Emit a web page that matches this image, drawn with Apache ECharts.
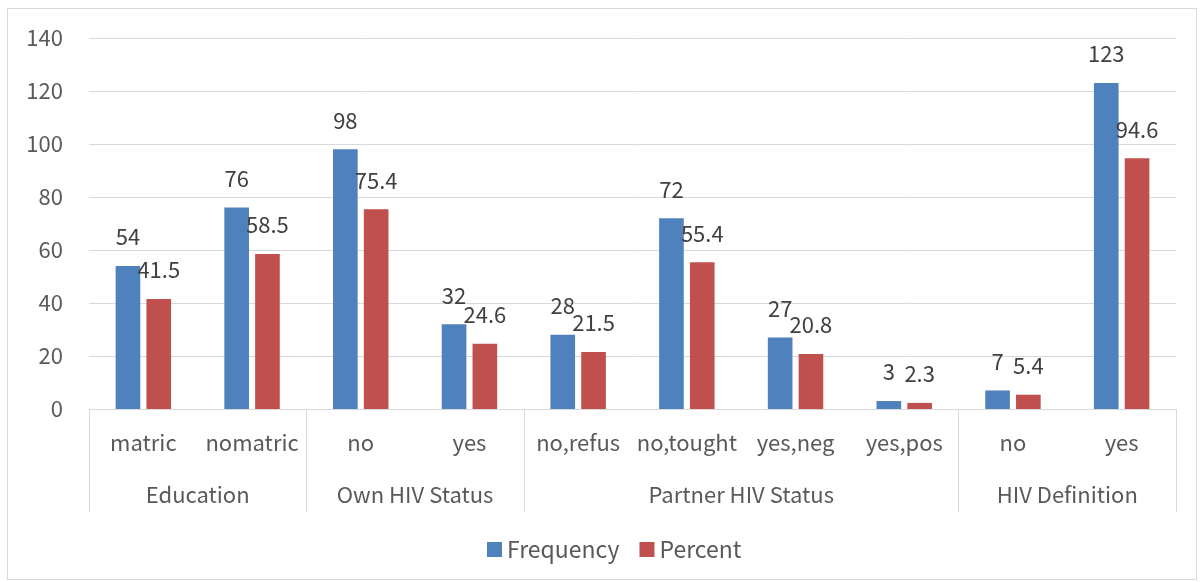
<!DOCTYPE html>
<html>
<head>
<meta charset="utf-8">
<script src="https://cdn.jsdelivr.net/npm/echarts@6/dist/echarts.min.js"></script>
<style>
  html, body { margin: 0; padding: 0; background: #ffffff; }
  #chart { width: 1200px; height: 582px; position: absolute; left: 0; top: 0; }
  #frame { position: absolute; left: 7px; top: 8px; width: 1188px; height: 570px; border: 1px solid #d9d9d9; pointer-events: none; }
</style>
</head>
<body>
<div id="chart"></div>
<div id="frame"></div>
<script>
const categories = ['matric', 'nomatric', 'no', 'yes', 'no,refus', 'no,tought', 'yes,neg', 'yes,pos', 'no', 'yes'];
const groupNames = ['Education', 'Own HIV Status', 'Partner HIV Status', 'HIV Definition'];
const groupBoundaries = [0, 2, 4, 8, 10];
const groupCenters = [1, 3, 6, 9];
const frequency = [54, 76, 98, 32, 28, 72, 27, 3, 7, 123];
const percent = [41.5, 58.5, 75.4, 24.6, 21.5, 55.4, 20.8, 2.3, 5.4, 94.6];
const yTicks = [0, 20, 40, 60, 80, 100, 120, 140];

const FONT = '"Noto Sans CJK KR", "Noto Sans", sans-serif';
const TXT = '#595959';
const LINE = '#d9d9d9';

const chart = echarts.init(document.getElementById('chart'), null, { renderer: 'canvas' });
const labelStyle = {
  show: true, position: 'top', distance: 18,
  fontFamily: FONT, fontSize: 22, color: '#404040'
};
chart.setOption({
  animation: false,
  textStyle: { fontFamily: FONT },
  grid: { left: 89, right: 24, top: 38, bottom: 173, containLabel: false },
  legend: {
    data: ['Frequency', 'Percent'],
    left: 482, top: 533,
    itemWidth: 15, itemHeight: 15, itemGap: 20,
    icon: 'rect',
    textStyle: { fontFamily: FONT, fontSize: 23, color: TXT }
  },
  xAxis: [
    {
      type: 'category', data: categories, position: 'bottom',
      axisLine: { show: true, lineStyle: { color: LINE, width: 1 } },
      axisTick: { show: false },
      axisLabel: { interval: 0, margin: 23, fontFamily: FONT, fontSize: 22, color: TXT }
    },
    {
      type: 'value', min: 0, max: 10, position: 'bottom',
      axisLine: { show: false },
      splitLine: { show: false },
      axisTick: { show: true, length: 103, customValues: groupBoundaries, lineStyle: { color: LINE, width: 1 } },
      axisLabel: {
        customValues: groupCenters, margin: 75, fontFamily: FONT, fontSize: 22, color: TXT,
        formatter: function (v) { const i = groupCenters.indexOf(v); return i >= 0 ? groupNames[i] : ''; }
      }
    }
  ],
  yAxis: {
    type: 'value', min: yTicks[0], max: yTicks[yTicks.length - 1], interval: 20,
    axisLine: { show: false }, axisTick: { show: false },
    splitLine: { lineStyle: { color: LINE, width: 1 } },
    axisLabel: { margin: 26, fontFamily: FONT, fontSize: 22, color: TXT }
  },
  series: [
    {
      name: 'Frequency', type: 'bar', data: frequency, xAxisIndex: 0,
      itemStyle: { color: '#4F81BD' },
      barGap: '25%', barCategoryGap: '49%',
      label: labelStyle
    },
    {
      name: 'Percent', type: 'bar', data: percent, xAxisIndex: 0,
      itemStyle: { color: '#C0504D' },
      label: labelStyle
    }
  ]
});
</script>
</body>
</html>
